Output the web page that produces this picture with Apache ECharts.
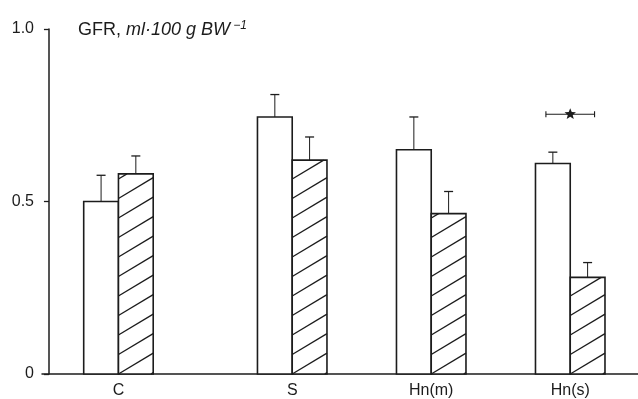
<!DOCTYPE html>
<html><head><meta charset="utf-8">
<script src="https://cdn.jsdelivr.net/npm/echarts@6/dist/echarts.min.js"></script>
<style>html,body{margin:0;padding:0;background:#fff}#c{width:638px;height:399px}</style>
</head><body><div id="c"></div>
<script>
// ---- data ----
const categories = ['C', 'S', 'Hn(m)', 'Hn(s)'];
const openMeans = [0.50, 0.745, 0.65, 0.61];
const openSE = [0.076, 0.065, 0.095, 0.033];
const hatchedMeans = [0.58, 0.62, 0.465, 0.28];
const hatchedSE = [0.052, 0.067, 0.064, 0.043];
const yTicks = [0, 0.5, 1.0];
const yTickLabels = ['0', '0.5', '1.0'];
const significantGroups = ['Hn(s)'];
const significanceLevel = 0.753;

// ---- layout / style ----
const groupX = [2, 7, 11, 15];   // slot positions of the groups on the x scale (bar width = 1)
const INK = '#1c1c1c';
const FONT = '"Liberation Sans", Arial, sans-serif';

function barRender(offset, hatched) {
  return function (params, api) {
    const x = api.value(0), m = api.value(1), se = api.value(2);
    const p0 = api.coord([x + offset, 0]);
    const p1 = api.coord([x + offset + 1, m]);
    const L = p0[0], R = p1[0], B = p0[1], T = p1[1];
    const w = R - L;
    const children = [];
    children.push({ type: 'rect', shape: { x: L, y: T, width: w, height: B - T }, style: { fill: '#fff', stroke: null } });
    if (hatched) {
      const k = 0.6, s = 19.5;
      const jMin = -Math.ceil(k * w / s) - 1;
      const jMax = Math.ceil((B - T) / s) + 1;
      for (let j = jMin; j <= jMax; j++) {
        const c = B - j * s; // y at x=L
        let u0 = Math.max(0, (c - B) / k);
        let u1 = Math.min(w, (c - T) / k);
        if (u1 - u0 < 0.5) continue;
        children.push({ type: 'line', shape: { x1: L + u0, y1: c - k * u0, x2: L + u1, y2: c - k * u1 },
          style: { stroke: INK, lineWidth: 1.3 } });
      }
    }
    children.push({ type: 'rect', shape: { x: L, y: T, width: w, height: B - T }, style: { fill: null, stroke: INK, lineWidth: 1.6 } });
    const xc = api.coord([x + offset + 0.5, m])[0];
    const eTop = api.coord([x + offset + 0.5, m + se])[1];
    children.push({ type: 'line', shape: { x1: xc, y1: T, x2: xc, y2: eTop }, style: { stroke: INK, lineWidth: 1 } });
    children.push({ type: 'line', shape: { x1: xc - 4.5, y1: eTop, x2: xc + 4.5, y2: eTop }, style: { stroke: INK, lineWidth: 1.3 } });
    return { type: 'group', children };
  };
}

function sigRender(params, api) {
  const x = api.value(0), lv = api.value(1);
  const p = api.coord([x, lv]);
  const half = api.size([0.7, 0])[0];
  const pts = [];
  for (let i = 0; i < 10; i++) {
    const r = i % 2 === 0 ? 6 : 2.6;
    const a = -Math.PI / 2 + i * Math.PI / 5;
    pts.push([p[0] + r * Math.cos(a), p[1] + r * Math.sin(a)]);
  }
  return { type: 'group', children: [
    { type: 'line', shape: { x1: p[0] - half, y1: p[1], x2: p[0] + half, y2: p[1] }, style: { stroke: INK, lineWidth: 1.1 } },
    { type: 'line', shape: { x1: p[0] - half, y1: p[1] - 3, x2: p[0] - half, y2: p[1] + 3 }, style: { stroke: INK, lineWidth: 1.1 } },
    { type: 'line', shape: { x1: p[0] + half, y1: p[1] - 3, x2: p[0] + half, y2: p[1] + 3 }, style: { stroke: INK, lineWidth: 1.1 } },
    { type: 'polygon', shape: { points: pts }, style: { fill: INK, stroke: null } }
  ] };
}

const chart = echarts.init(document.getElementById('c'), null, { renderer: 'canvas' });
chart.setOption({
  animation: false,
  backgroundColor: '#fff',
  title: {
    left: 73, top: 15,
    text: '{n|GFR, }{i|ml·100 g BW}{s| −1}',
    textStyle: {
      fontWeight: 'normal',
      rich: {
        n: { fontSize: 18, fontFamily: FONT, fontWeight: 'normal', color: INK },
        i: { fontSize: 18, fontFamily: FONT, fontWeight: 'normal', fontStyle: 'italic', color: INK },
        s: { fontSize: 12, fontFamily: FONT, fontWeight: 'normal', fontStyle: 'italic', color: INK, verticalAlign: 'top', padding: [0, 0, 8, 0] }
      }
    }
  },
  grid: { left: 42, right: 0, top: 29, bottom: 25 },
  xAxis: {
    type: 'value', min: -0.2, max: 16.95,
    axisLine: { show: true, onZero: true, lineStyle: { color: INK, width: 1.5 } },
    axisTick: { show: false },
    splitLine: { show: false },
    axisLabel: {
      customValues: groupX,
      formatter: v => { const i = groupX.indexOf(Math.round(v)); return i >= 0 ? categories[i] : ''; },
      fontSize: 16, fontFamily: FONT, color: INK, margin: 9
    }
  },
  yAxis: {
    type: 'value', min: 0, max: 1, interval: 0.5,
    axisLine: { show: true, onZero: true, lineStyle: { color: INK, width: 1.5 } },
    axisTick: { show: true, length: 5, lineStyle: { color: INK, width: 1.3 } },
    splitLine: { show: false },
    axisLabel: {
      formatter: v => { const i = yTicks.findIndex(t => Math.abs(t - v) < 1e-6); return i >= 0 ? yTickLabels[i] : ''; },
      fontSize: 16, fontFamily: FONT, color: INK, margin: 8
    }
  },
  series: [
    { name: 'open', type: 'custom', coordinateSystem: 'cartesian2d', clip: false,
      encode: { x: 0, y: [1, 2] },
      data: categories.map((c, i) => [groupX[i], openMeans[i], openSE[i]]),
      renderItem: barRender(-1, false) },
    { name: 'hatched', type: 'custom', coordinateSystem: 'cartesian2d', clip: false,
      encode: { x: 0, y: [1, 2] },
      data: categories.map((c, i) => [groupX[i], hatchedMeans[i], hatchedSE[i]]),
      renderItem: barRender(0, true) },
    { name: 'significance', type: 'custom', coordinateSystem: 'cartesian2d', clip: false,
      encode: { x: 0, y: 1 },
      data: significantGroups.map(g => [groupX[categories.indexOf(g)], significanceLevel]),
      renderItem: sigRender }
  ]
});
</script></body></html>
